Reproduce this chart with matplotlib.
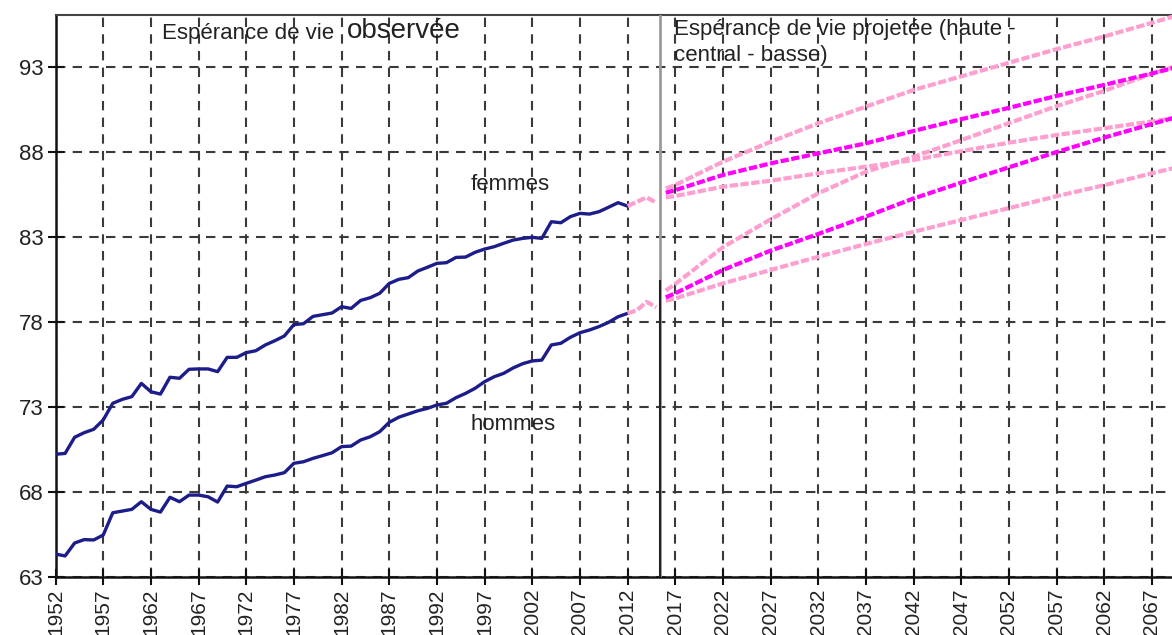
import matplotlib
matplotlib.use("Agg")
from matplotlib import pyplot as plt

# espérance de vie observée (1952-2012)
obs_years = list(range(1952, 2013))
femmes = [70.22, 70.27, 71.22, 71.49, 71.69, 72.24, 73.22, 73.45, 73.61, 74.39,
          73.90, 73.76, 74.75, 74.69, 75.22, 75.24, 75.24, 75.08, 75.92, 75.92,
          76.20, 76.31, 76.65, 76.90, 77.18, 77.85, 77.90, 78.33, 78.43, 78.53,
          78.90, 78.80, 79.27, 79.43, 79.69, 80.27, 80.51, 80.61, 81.00, 81.22,
          81.45, 81.49, 81.80, 81.82, 82.10, 82.29, 82.43, 82.63, 82.82, 82.92,
          82.98, 82.92, 83.90, 83.84, 84.20, 84.39, 84.35, 84.49, 84.75, 85.02,
          84.82]
hommes = [64.35, 64.24, 65.00, 65.20, 65.18, 65.47, 66.78, 66.88, 66.98, 67.43,
          66.98, 66.82, 67.69, 67.43, 67.82, 67.82, 67.72, 67.41, 68.35, 68.31,
          68.51, 68.70, 68.90, 69.00, 69.14, 69.69, 69.78, 69.98, 70.14, 70.31,
          70.67, 70.70, 71.06, 71.25, 71.55, 72.10, 72.40, 72.59, 72.78, 72.92,
          73.12, 73.22, 73.55, 73.80, 74.10, 74.49, 74.78, 74.98, 75.30, 75.55,
          75.71, 75.76, 76.65, 76.75, 77.10, 77.37, 77.53, 77.73, 77.98, 78.31,
          78.51]

# années récentes (provisoires)
rec_years = [2012, 2013, 2014, 2015]
femmes_rec = [84.82, 85.08, 85.33, 85.02]
hommes_rec = [78.51, 78.70, 79.19, 78.86]

# projections
proj_years = [2016, 2017, 2022, 2027, 2032, 2037, 2042, 2047, 2052, 2057, 2062, 2067, 2070]
f_haute = [85.85, 86.06, 87.43, 88.60, 89.69, 90.67, 91.65, 92.45, 93.25, 94.05, 94.80, 95.60, 96.10]
f_centrale = [85.60, 85.76, 86.65, 87.33, 87.92, 88.51, 89.24, 89.93, 90.60, 91.30, 91.95, 92.62, 93.05]
f_basse = [85.33, 85.41, 85.96, 86.31, 86.75, 87.14, 87.53, 88.05, 88.55, 89.00, 89.40, 89.80, 90.05]
h_haute = [79.85, 80.24, 82.40, 84.04, 85.57, 86.84, 87.72, 88.70, 89.70, 90.70, 91.60, 92.60, 93.15]
h_centrale = [79.45, 79.69, 81.06, 82.20, 83.18, 84.20, 85.27, 86.20, 87.10, 88.00, 88.85, 89.65, 90.12]
h_basse = [79.25, 79.39, 80.27, 81.06, 81.84, 82.59, 83.31, 84.00, 84.70, 85.40, 86.05, 86.75, 87.15]

x_ticks = list(range(1952, 2068, 5))
y_ticks = [63, 68, 73, 78, 83, 88, 93]

plt.rcParams['font.family'] = ['Liberation Sans', 'DejaVu Sans']

fig = plt.figure(figsize=(11.72, 6.35), dpi=100)
ax = fig.add_axes([0.0474, 0.0913, 0.9526, 0.8851])

navy = '#1c1c8a'
pink = '#ff9fd0'
magenta = '#ff00ff'
dash = (0, (2.0, 0.6))
txt = '#222222'

ax.plot(obs_years, femmes, color=navy, lw=2.4, zorder=4)
ax.plot(obs_years, hommes, color=navy, lw=2.4, zorder=4)
ax.plot(rec_years, femmes_rec, color=pink, lw=3, ls=dash, zorder=4)
ax.plot(rec_years, hommes_rec, color=pink, lw=3, ls=dash, zorder=4)

for serie in [f_haute, f_basse, h_haute, h_basse]:
    ax.plot(proj_years, serie, color=pink, lw=3, ls=dash, zorder=4)
for serie in [f_centrale, h_centrale]:
    ax.plot(proj_years, serie, color=magenta, lw=3, ls=dash, zorder=5)

# séparation observé / projeté
ax.axvline(2015.4, color='#9a9a9a', lw=2, zorder=3)
ax.plot([2015.4, 2015.4], [63, 80.4], color='#222222', lw=1.5, zorder=3)

ax.set_xlim(1952, 2069.1)
ax.set_ylim(63, 96.06)
ax.set_xticks(x_ticks)
ax.set_yticks(y_ticks)
ax.set_xticklabels([str(a) for a in x_ticks], rotation=90, fontsize=15, color=txt)
ax.set_yticklabels([str(v) for v in y_ticks], fontsize=16, color=txt)
ax.tick_params(direction='inout', length=11, width=1.5, colors='#111111', pad=3)
ax.tick_params(axis='both', labelcolor=txt)

ax.grid(True, color='#3a3a3a', lw=1.5, ls=(0, (4.5, 3.5)), zorder=1)
ax.set_axisbelow(True)

for side in ['left', 'bottom']:
    ax.spines[side].set_linewidth(1.8)
    ax.spines[side].set_color('#111111')
ax.spines['top'].set_linewidth(1.5)
ax.spines['top'].set_color('#444444')
ax.spines['right'].set_visible(False)

ax.text(1963.2, 95.0, "Espérance de vie", fontsize=16, color=txt, va='center', ha='left')
ax.text(1982.6, 95.1, "observée", fontsize=20, color=txt, va='center', ha='left')
ax.text(2016.9, 95.8, "Espérance de vie projetée (haute -\ncentral - basse)", fontsize=16,
        color=txt, va='top', ha='left', linespacing=1.3)
ax.text(1995.5, 86.06, "femmes", fontsize=16, color=txt, va='center', ha='left')
ax.text(1995.5, 72.0, "hommes", fontsize=16, color=txt, va='center', ha='left')

plt.savefig("out.png")
